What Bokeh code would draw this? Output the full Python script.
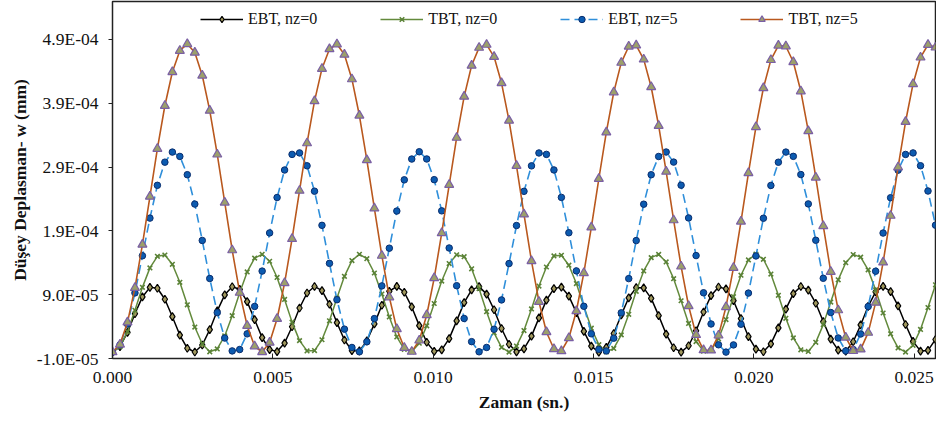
from bokeh.plotting import figure
from bokeh.models import (Range1d, FixedTicker, CustomJSTickFormatter, NumeralTickFormatter,
                          Legend, LegendItem, ColumnDataSource)
from bokeh.embed import file_html
from bokeh.resources import INLINE

# time (s)
t = [0.0, 0.000233, 0.000467, 0.0007, 0.000933, 0.001167, 0.0014, 0.001633, 0.001867,
     0.0021, 0.002333, 0.002567, 0.0028, 0.003033, 0.003267, 0.0035, 0.003733, 0.003967,
     0.0042, 0.004433, 0.004667, 0.0049, 0.005133, 0.005367, 0.0056, 0.005833, 0.006067,
     0.0063, 0.006533, 0.006767, 0.007, 0.007233, 0.007467, 0.0077, 0.007933, 0.008167,
     0.0084, 0.008633, 0.008867, 0.0091, 0.009333, 0.009567, 0.0098, 0.010033, 0.010267,
     0.0105, 0.010733, 0.010967, 0.0112, 0.011433, 0.011667, 0.0119, 0.012133, 0.012367,
     0.0126, 0.012833, 0.013067, 0.0133, 0.013533, 0.013767, 0.014, 0.014233, 0.014467,
     0.0147, 0.014933, 0.015167, 0.0154, 0.015633, 0.015867, 0.0161, 0.016333, 0.016567,
     0.0168, 0.017033, 0.017267, 0.0175, 0.017733, 0.017967, 0.0182, 0.018433, 0.018667,
     0.0189, 0.019133, 0.019367, 0.0196, 0.019833, 0.020067, 0.0203, 0.020533, 0.020767,
     0.021, 0.021233, 0.021467, 0.0217, 0.021933, 0.022167, 0.0224, 0.022633, 0.022867,
     0.0231, 0.023333, 0.023567, 0.0238, 0.024033, 0.024267, 0.0245, 0.024733, 0.024967,
     0.0252, 0.025433, 0.025667]

# vertical displacement w, in units of 1E-05 mm
ebt_nz0 = [0, 0.84, 3.09, 6.01, 8.65, 10.15, 10.01, 8.29, 5.55, 2.67,
           0.60, 0.02, 1.11, 3.52, 6.47, 8.98, 10.24, 9.84, 7.91, 5.08,
           2.27, 0.40, 0.08, 1.42, 3.97, 6.91, 9.27, 10.29, 9.63, 7.50,
           4.61, 1.90, 0.24, 0.19, 1.76, 4.43, 7.34, 9.54, 10.30, 9.38,
           7.08, 4.15, 1.55, 0.12, 0.34, 2.12, 4.90, 7.76, 9.76, 10.26,
           9.09, 6.64, 3.70, 1.23, 0.04, 0.52, 2.51, 5.37, 8.15, 9.95,
           10.19, 8.78, 6.19, 3.25, 0.94, 0.00, 0.74, 2.92, 5.83, 8.51,
           10.10, 10.07, 8.43, 5.72, 2.83, 0.69, 0.01, 1.00, 3.35, 6.29,
           8.85, 10.21, 9.91, 8.06, 5.26, 2.42, 0.47, 0.06, 1.30, 3.80,
           6.74, 9.17, 10.28, 9.71, 7.66, 4.79, 2.04, 0.30, 0.14, 1.63,
           4.26, 7.18, 9.44, 10.30, 9.48, 7.24, 4.33, 1.68, 0.16, 0.27,
           1.98]
tbt_nz0 = [0, 0.85, 3.21, 6.55, 10.15, 13.20, 15.02, 15.22, 13.76, 10.94,
           7.41, 3.93, 1.28, 0.05, 0.50, 2.54, 5.71, 9.32, 12.57, 14.73,
           15.33, 14.24, 11.70, 8.26, 4.70, 1.80, 0.19, 0.24, 1.94, 4.90,
           8.48, 11.88, 14.35, 15.34, 14.64, 12.40, 9.11, 5.51, 2.38, 0.43,
           0.07, 1.40, 4.12, 7.62, 11.14, 13.88, 15.26, 14.96, 13.05, 9.94,
           6.34, 3.03, 0.75, 0.00, 0.95, 3.38, 6.77, 10.35, 13.34, 15.08,
           15.18, 13.62, 10.75, 7.19, 3.75, 1.17, 0.03, 0.58, 2.70, 5.92,
           9.53, 12.73, 14.81, 15.31, 14.13, 11.51, 8.05, 4.50, 1.66, 0.15,
           0.30, 2.08, 5.10, 8.69, 12.05, 14.45, 15.35, 14.55, 12.23, 8.90,
           5.30, 2.23, 0.36, 0.11, 1.53, 4.31, 7.84, 11.33, 14.01, 15.29,
           14.89, 12.89, 9.74, 6.13, 2.87, 0.66, 0.01, 1.06, 3.56, 6.98,
           10.55]
ebt_nz5 = [0, 1.14, 4.39, 9.28, 15.10, 21.00, 26.14, 29.77, 31.35, 30.67,
           27.81, 23.20, 17.50, 11.54, 6.19, 2.21, 0.19, 0.41, 2.86, 7.16,
           12.70, 18.68, 24.23, 28.54, 30.99, 31.22, 29.20, 25.22, 19.87, 13.91,
           8.21, 3.60, 0.73, 0.05, 1.62, 5.25, 10.38, 16.29, 22.11, 27.00,
           30.26, 31.40, 30.27, 27.03, 22.14, 16.32, 10.41, 5.27, 1.64, 0.05,
           0.73, 3.58, 8.18, 13.88, 19.84, 25.20, 29.19, 31.21, 30.99, 28.55,
           24.25, 18.71, 12.73, 7.18, 2.87, 0.42, 0.18, 2.19, 6.16, 11.52,
           17.48, 23.18, 27.80, 30.66, 31.36, 29.78, 26.16, 21.03, 15.13, 9.30,
           4.41, 1.15, 0.00, 1.13, 4.37, 9.25, 15.07, 20.98, 26.12, 29.76,
           31.35, 30.68, 27.83, 23.23, 17.53, 11.57, 6.21, 2.22, 0.19, 0.41,
           2.84, 7.14, 12.68, 18.66, 24.20, 28.52, 30.98, 31.22, 29.21, 25.25,
           19.90]
tbt_nz5 = [0, 1.20, 4.67, 10.07, 16.86, 24.38, 31.88, 38.61, 43.90, 47.24,
           48.30, 46.95, 43.35, 37.85, 30.99, 23.45, 15.98, 9.32, 4.13, 0.92,
           0.02, 1.50, 5.23, 10.83, 17.75, 25.31, 32.75, 39.34, 44.42, 47.50,
           48.26, 46.63, 42.78, 37.08, 30.10, 22.53, 15.12, 8.61, 3.63, 0.69,
           0.07, 1.84, 5.82, 11.61, 18.65, 26.23, 33.61, 40.05, 44.91, 47.72,
           48.19, 46.28, 42.17, 36.29, 29.20, 21.60, 14.27, 7.90, 3.15, 0.49,
           0.16, 2.21, 6.44, 12.41, 19.56, 27.16, 34.45, 40.73, 45.37, 47.90,
           48.08, 45.88, 41.55, 35.48, 28.29, 20.68, 13.43, 7.23, 2.71, 0.32,
           0.28, 2.62, 7.08, 13.23, 20.47, 28.07, 35.29, 41.39, 45.80, 48.05,
           47.94, 45.47, 40.89, 34.65, 27.37, 19.77, 12.60, 6.58, 2.30, 0.19,
           0.44, 3.05, 7.76, 14.07, 21.39, 28.98, 36.10, 42.03, 46.19, 48.17,
           47.76]

series_names = ["EBT, nz=0", "TBT, nz=0", "EBT, nz=5", "TBT, nz=5"]
x_ticks = [0.0, 0.005, 0.010, 0.015, 0.020, 0.025]
y_ticks = [-1, 9, 19, 29, 39, 49]   # in 1E-05 mm

FONT = "Liberation Serif"

p = figure(width=936, height=425, output_backend="svg", toolbar_location=None,
           x_range=Range1d(0, 0.025667), y_range=Range1d(-1, 54.95),
           min_border_left=112, min_border_right=1, min_border_top=1, min_border_bottom=67)
p.background_fill_color = "white"
p.border_fill_color = "white"
p.outline_line_color = "#222222"
p.outline_line_width = 1.5
p.xgrid.visible = False
p.ygrid.visible = False

src = ColumnDataSource(dict(t=t, e0=ebt_nz0, t0=tbt_nz0, e5=ebt_nz5, t5=tbt_nz5))

r1l = p.line("t", "e0", source=src, line_color="black", line_width=1.5)
r1m = p.scatter("t", "e0", source=src, marker="diamond", size=8,
                fill_color="#A0985E", line_color="black", line_width=1.2)
r2l = p.line("t", "t0", source=src, line_color="#638A3C", line_width=1.5)
r2m = p.scatter("t", "t0", source=src, marker="x", size=6.5,
                line_color="#5A8236", line_width=1.6)
r3l = p.line("t", "e5", source=src, line_color="#2F8FDA", line_width=1.6, line_dash="9 5")
r3m = p.scatter("t", "e5", source=src, marker="circle", size=6.5,
                fill_color="#0C5BB0", line_color="#0A2E6E", line_width=1)
r4l = p.line("t", "t5", source=src, line_color="#B9581E", line_width=1.6)
r4m = p.scatter("t", "t5", source=src, marker="triangle", size=9,
                fill_color="#9CA06A", line_color="#7A5FA5", line_width=1.2)

legend = Legend(items=[
    LegendItem(label=series_names[0], renderers=[r1l, r1m]),
    LegendItem(label=series_names[1], renderers=[r2l, r2m]),
    LegendItem(label=series_names[2], renderers=[r3l, r3m]),
    LegendItem(label=series_names[3], renderers=[r4l, r4m]),
], orientation="horizontal", location=(88, 330))
legend.glyph_width = 43
legend.glyph_height = 16
legend.label_height = 16
legend.label_standoff = 5
legend.spacing = 63
legend.padding = 0
legend.margin = 0
legend.border_line_alpha = 0
legend.background_fill_alpha = 0
legend.label_text_font = FONT
legend.label_text_font_size = "16px"
legend.label_text_color = "#111111"
p.add_layout(legend, "center")

xa = p.xaxis[0]
xa.ticker = FixedTicker(ticks=x_ticks)
xa.formatter = NumeralTickFormatter(format="0.000")
xa.major_tick_in = 5
xa.major_tick_out = 0
xa.minor_tick_line_color = None
xa.axis_line_color = "#222222"
xa.major_tick_line_color = "#222222"
xa.major_label_text_font = FONT
xa.major_label_text_font_size = "17.5px"
xa.major_label_text_color = "#111111"
xa.major_label_standoff = 13
xa.axis_label = "Zaman (sn.)"
xa.axis_label_text_font = FONT
xa.axis_label_text_font_style = "bold"
xa.axis_label_text_font_size = "17.5px"
xa.axis_label_text_color = "#111111"
xa.axis_label_standoff = 6

ya = p.yaxis[0]
ya.ticker = FixedTicker(ticks=y_ticks)
ya.formatter = CustomJSTickFormatter(code="""
const s = (tick * 1e-5).toExponential(1).toUpperCase();
const parts = s.split("E");
let e = parseInt(parts[1]);
const sign = e < 0 ? "-" : "+";
e = Math.abs(e);
return parts[0] + "E" + sign + (e < 10 ? "0" + e : String(e));
""")
ya.major_tick_in = 0
ya.major_tick_out = 4
ya.minor_tick_line_color = None
ya.axis_line_color = "#222222"
ya.major_tick_line_color = "#222222"
ya.major_label_text_font = FONT
ya.major_label_text_font_size = "17.5px"
ya.major_label_text_color = "#111111"
ya.major_label_standoff = 10
ya.axis_label = "Düşey Deplasman- w (mm)"
ya.axis_label_text_font = FONT
ya.axis_label_text_font_style = "bold"
ya.axis_label_text_font_size = "17.5px"
ya.axis_label_text_color = "#111111"
ya.axis_label_standoff = 4

open("out.html", "w").write(file_html(p, INLINE))
